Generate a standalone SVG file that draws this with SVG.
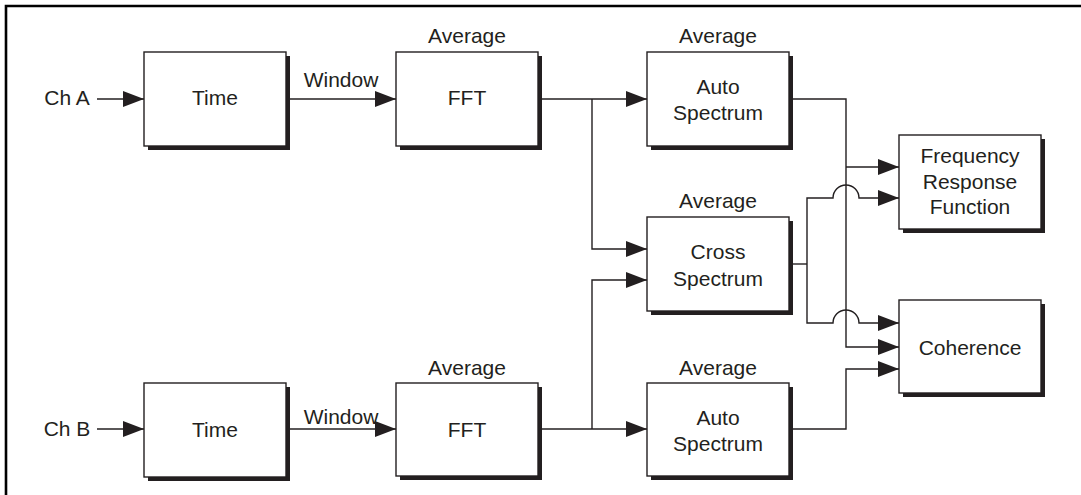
<svg xmlns="http://www.w3.org/2000/svg" width="1081" height="495" viewBox="0 0 1081 495">
<style>
.box{fill:#fff;stroke:#231f20;stroke-width:1.4}
.sh{fill:#231f20}
.t{font-family:"Liberation Sans",Arial,sans-serif;font-size:21px;fill:#231f20;text-anchor:middle}
.c{fill:none;stroke:#231f20;stroke-width:1.4}
.a{marker-end:url(#arr)}
</style>
<defs>
<marker id="arr" markerUnits="userSpaceOnUse" markerWidth="22" markerHeight="17" refX="21" refY="8" orient="auto">
<path d="M0,0 L21,8 L0,16 z" fill="#231f20"/>
</marker>
</defs>
<rect width="1081" height="495" fill="#fff"/>
<path d="M6,495 V6 H1081" fill="none" stroke="#000" stroke-width="2.6"/>

<g id="connectors">
<path class="c a" d="M97,99 H144"/>
<path class="c a" d="M290,99 H396"/>
<path class="c a" d="M542,99 H647"/>
<path class="c a" d="M592,99 V249 H647"/>
<path class="c a" d="M97,429 H144"/>
<path class="c a" d="M290,429 H396"/>
<path class="c a" d="M542,429 H647"/>
<path class="c a" d="M592,429 V280 H647"/>
<path class="c a" d="M793,99 H846 V347 H899"/>
<path class="c a" d="M846,167 H899"/>
<path class="c" d="M793,264 H807"/>
<path class="c a" d="M807,264 V198 H833 A13,13 0 0 1 859,198 H899"/>
<path class="c a" d="M807,264 V323 H833 A13,13 0 0 1 859,323 H899"/>
<path class="c a" d="M793,429 H846 V369 H899"/>
<text class="t" x="341" y="87">Window</text>
<text class="t" x="341" y="424">Window</text>
</g>

<g id="chA"><text class="t" x="67" y="104.5">Ch A</text></g>
<g id="chB"><text class="t" x="67" y="435.5">Ch B</text></g>

<g id="timeA">
<rect class="sh" x="148" y="56" width="142" height="94"/>
<rect class="box" x="144" y="52" width="142" height="94"/>
<text class="t" x="215" y="105">Time</text>
</g>
<g id="fftA">
<text class="t" x="467" y="43">Average</text>
<rect class="sh" x="400" y="56" width="142" height="94"/>
<rect class="box" x="396" y="52" width="142" height="94"/>
<text class="t" x="467" y="105">FFT</text>
</g>
<g id="autoA">
<text class="t" x="718" y="43">Average</text>
<rect class="sh" x="651" y="56" width="142" height="94"/>
<rect class="box" x="647" y="52" width="142" height="94"/>
<text class="t" x="718" y="94">Auto</text>
<text class="t" x="718" y="120">Spectrum</text>
</g>
<g id="cross">
<text class="t" x="718" y="208">Average</text>
<rect class="sh" x="651" y="221" width="142" height="94"/>
<rect class="box" x="647" y="217" width="142" height="94"/>
<text class="t" x="718" y="259">Cross</text>
<text class="t" x="718" y="285.5">Spectrum</text>
</g>
<g id="timeB">
<rect class="sh" x="148" y="387" width="142" height="94"/>
<rect class="box" x="144" y="383" width="142" height="94"/>
<text class="t" x="215" y="436.5">Time</text>
</g>
<g id="fftB">
<text class="t" x="467" y="375">Average</text>
<rect class="sh" x="400" y="387" width="142" height="93"/>
<rect class="box" x="396" y="383" width="142" height="93"/>
<text class="t" x="467" y="436.5">FFT</text>
</g>
<g id="autoB">
<text class="t" x="718" y="375">Average</text>
<rect class="sh" x="651" y="387" width="142" height="93"/>
<rect class="box" x="647" y="383" width="142" height="93"/>
<text class="t" x="718" y="424.5">Auto</text>
<text class="t" x="718" y="450.5">Spectrum</text>
</g>
<g id="frf">
<rect class="sh" x="903" y="139" width="142" height="94"/>
<rect class="box" x="899" y="135" width="142" height="94"/>
<text class="t" x="970" y="163">Frequency</text>
<text class="t" x="970" y="188.5">Response</text>
<text class="t" x="970" y="214">Function</text>
</g>
<g id="coherence">
<rect class="sh" x="903" y="304" width="142" height="93"/>
<rect class="box" x="899" y="300" width="142" height="93"/>
<text class="t" x="970" y="355">Coherence</text>
</g>
</svg>
